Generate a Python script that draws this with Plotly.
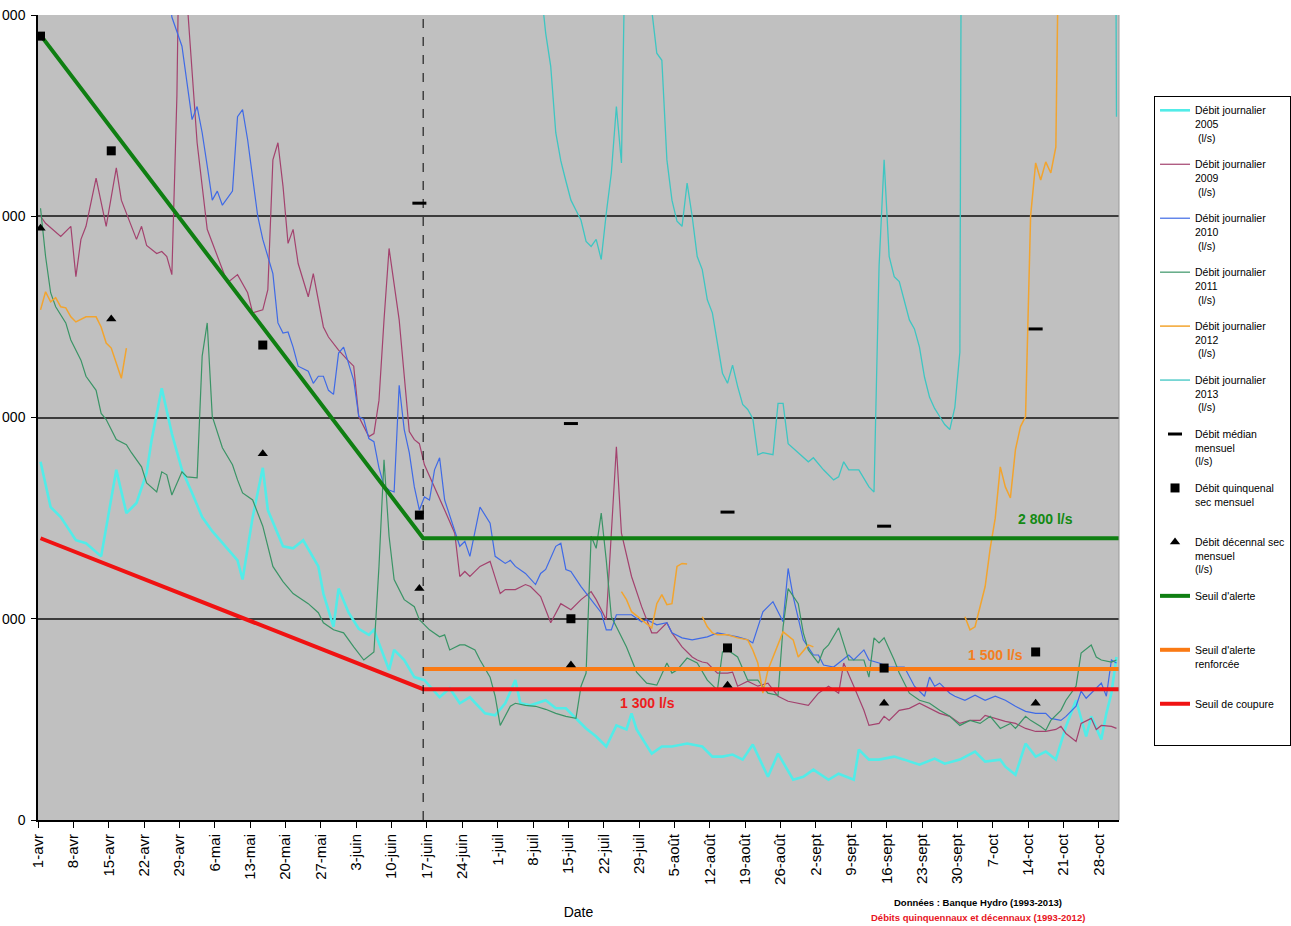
import plotly.graph_objects as go
from datetime import datetime, timedelta

BASE = datetime(2013, 4, 1)

tick_labels = ["1-avr", "8-avr", "15-avr", "22-avr", "29-avr", "6-mai", "13-mai", "20-mai",
               "27-mai", "3-juin", "10-juin", "17-juin", "24-juin", "1-juil", "8-juil",
               "15-juil", "22-juil", "29-juil", "5-août", "12-août", "19-août", "26-août",
               "2-sept", "9-sept", "16-sept", "23-sept", "30-sept", "7-oct", "14-oct",
               "21-oct", "28-oct"]

# (day index since 1-avr, flow l/s)
flow_2005 = [(0,3560),(2,3110),(4,3010),(7,2780),(9,2750),(12,2620),(15,3480),(17,3050),(19,3150),
             (21,3450),(22,3780),(24,4290),(26,3840),(28,3480),(30,3250),(32,3010),(34,2870),(36,2750),
             (38,2630),(39,2580),(40,2390),(42,3010),(44,3500),(45,3080),(48,2720),(50,2700),(52,2780),
             (55,2520),(56,2250),(58,1920),(59,2300),(61,2060),(63,1900),(65,1840),(66,1890),(69,1490),
             (70,1690),(72,1590),(74,1420),(76,1390),(79,1220),(81,1310),(83,1160),(85,1220),(88,1060),
             (90,1040),(92,1160),(94,1390),(95,1160),(97,1140),(100,1190),(102,1110),(104,1110),
             (106,1010),(108,910),(110,830),(112,730),(114,940),(116,900),(117,1060),(118,900),(121,660),
             (123,730),(125,730),(128,760),(131,730),(133,630),(135,630),(137,650),(139,600),(141,750),
             (144,430),(146,660),(149,400),(151,430),(153,500),(156,400),(158,460),(161,400),(162,700),
             (164,600),(166,600),(169,630),(171,600),(174,550),(177,610),(179,560),(182,600),(185,680),
             (187,580),(190,600),(191,530),(193,450),(195,760),(197,630),(199,680),(201,600),(203,930),
             (205,1190),(207,830),(208,1030),(210,800),(211,1060),(212,1260),(213,1620)]

flow_2009 = [(0,6000),(1,5930),(4,5800),(6,5900),(7,5400),(8,5770),(9,5900),(11,6380),(13,5900),
             (15,6480),(16,6160),(17,6030),(19,5770),(20,5900),(21,5710),(23,5630),(24,5650),(25,5600),
             (26,5420),(27,7200),(28,10800),(29,8150),(30,7390),(31,6730),(33,5870),(35,5600),(37,5340),
             (39,5420),(41,5240),(42,5040),(44,5070),(45,5270),(46,6560),(47,6730),(48,6300),(49,5730),
             (50,5870),(51,5530),(53,5200),(54,5430),(56,4900),(57,4800),(59,4670),(61,4560),(62,4510),
             (63,4010),(65,3810),(66,3840),(67,4170),(68,4970),(69,5680),(71,4970),(73,3860),(74,3780),
             (75,3740),(76,3530),(78,3310),(80,3080),(82,2850),(83,2420),(84,2470),(85,2420),(87,2520),
             (89,2570),(91,2250),(92,2290),(94,2290),(96,2340),(97,2320),(99,2220),(101,1960),(103,2150),
             (105,2090),(107,2190),(109,2270),(110,2190),(112,1990),(113,2820),(114,3710),(115,2850),
             (117,2420),(119,2120),(121,1860),(122,1860),(124,1960),(125,1860),(127,1720),(129,1620),
             (130,1590),(131,1570),(132,1560),(134,1460),(136,1460),(137,1470),(138,1330),(140,1380),
             (142,1330),(144,1360),(146,1230),(148,1180),(150,1160),(152,1140),(154,1260),(156,1330),
             (158,1260),(159,1560),(161,1330),(163,1090),(164,940),(166,960),(167,1030),(168,990),
             (170,1090),(172,1110),(174,1160),(176,1110),(178,1060),(180,1030),(182,960),(184,990),
             (186,990),(187,1040),(189,1010),(191,980),(193,960),(195,910),(197,880),(199,880),(201,900),
             (202,930),(203,860),(205,780),(206,960),(208,1010),(209,900),(210,940),(212,930),(213,910)]

flow_2010 = [(25,8600),(26,7980),(28,7690),(30,6960),(31,7090),(32,6830),(33,6500),(34,6160),(35,6250),
             (36,6110),(38,6250),(39,6990),(40,7060),(41,6760),(43,6000),(44,5770),(46,5430),(47,4940),
             (48,4840),(49,4850),(50,4700),(51,4510),(53,4460),(54,4340),(55,4410),(56,4410),(57,4270),
             (58,4230),(59,4640),(60,4700),(62,4370),(63,4010),(64,3980),(65,3790),(66,3760),(67,3500),
             (68,3320),(69,3280),(70,3260),(71,4320),(72,3880),(73,3650),(74,3310),(75,3080),(76,3210),
             (77,3180),(78,3480),(79,3600),(80,3180),(83,2720),(84,2770),(85,2620),(87,3110),(89,2950),
             (90,2620),(92,2550),(93,2580),(94,2520),(96,2450),(98,2340),(99,2450),(100,2490),(102,2720),
             (103,2750),(104,2490),(105,2470),(107,2320),(109,2190),(111,2060),(112,1890),(113,1890),
             (114,2040),(117,2040),(119,1970),(120,1990),(122,1940),(124,1960),(125,1860),(127,1810),
             (129,1790),(132,1820),(134,1860),(136,1840),(138,1820),(140,1790),(141,1760),(143,2070),
             (145,2170),(147,1970),(148,2500),(149,2220),(151,1790),(153,1640),(154,1640),(155,1540),
             (157,1520),(160,1640),(161,1590),(163,1690),(164,1590),(166,1560),(168,1520),(171,1520),
             (173,1330),(175,1230),(176,1420),(177,1330),(178,1360),(180,1260),(181,1230),(183,1190),
             (185,1240),(187,1190),(189,1230),(191,1190),(193,1130),(195,1080),(197,1060),(199,1060),
             (200,1010),(202,990),(203,1030),(205,1130),(206,1280),(207,1210),(208,1260),(210,1360),
             (211,1230),(212,1590),(213,1560)]

flow_2011 = [(0,6080),(1,5600),(2,5240),(3,5100),(5,4940),(6,4770),(8,4570),(9,4410),(11,4270),(12,4040),
             (13,3980),(15,3780),(17,3730),(18,3650),(20,3510),(21,3350),(23,3260),(24,3460),(25,3430),
             (26,3230),(28,3460),(29,3410),(31,3400),(32,4610),(33,4940),(34,4010),(36,3700),(37,3610),
             (38,3530),(39,3380),(40,3250),(42,3180),(44,2920),(46,2520),(48,2370),(50,2250),(53,2150),
             (55,2060),(56,1960),(58,1890),(60,1860),(62,1720),(64,1590),(66,1670),(67,2520),(68,3580),
             (69,2820),(70,2390),(72,2190),(74,2120),(75,1990),(77,1890),(79,1820),(80,1840),(81,1690),
             (83,1740),(84,1740),(86,1690),(87,1590),(89,1420),(90,1230),(91,940),(93,1130),(94,1160),
             (96,1140),(98,1130),(100,1100),(102,1060),(104,1030),(106,1010),(107,1330),(108,1460),
             (109,2820),(110,2700),(111,3050),(112,2580),(113,2020),(114,1920),(116,1720),(118,1470),
             (120,1360),(122,1340),(124,1560),(125,1460),(126,1490),(128,1610),(130,1560),(132,1390),
             (134,1290),(135,1670),(136,1690),(138,1620),(140,1390),(142,1390),(144,1260),(146,1240),
             (147,1920),(148,2300),(150,2150),(151,1860),(152,1690),(154,1560),(155,1690),(156,1740),
             (158,1910),(160,1590),(161,1590),(163,1590),(164,1420),(165,1810),(166,1760),(167,1810),
             (169,1590),(170,1460),(172,1260),(174,1190),(176,1160),(178,1090),(180,1030),(182,940),
             (184,990),(186,960),(188,1030),(190,910),(192,960),(193,910),(195,1030),(196,990),(198,930),
             (199,890),(200,990),(202,1090),(203,1190),(205,1330),(206,1660),(208,1740),(209,1620),
             (210,1590),(212,1570),(213,1590)]

flow_2012 = [(0,5070),(1,5250),(2,5150),(3,5190),(4,5100),(5,5090),(6,5000),(7,4950),(9,5000),(10,5000),
             (11,5000),(12,4900),(13,4740),(14,4690),(15,4540),(16,4390),(17,4690),(18,None),
             (115,2270),(116,2190),(117,2070),(119,1990),(120,1950),(121,1910),(122,2150),(123,2240),
             (124,2140),(125,2150),(126,2520),(127,2550),(128,2545),(129,None),
             (131,2020),(132,1920),(133,1860),(134,1840),(136,1840),(138,1810),(140,1790),(141,1690),
             (142,1560),(143,1260),(144,1490),(145,1620),(146,1760),(147,1870),(149,1790),(150,1620),
             (152,1740),(153,1720),(154,None),
             (183,2020),(184,1890),(185,1920),(187,2320),(188,2700),(189,3000),(190,3510),(191,3310),
             (192,3200),(193,3680),(194,3910),(195,4010),(196,6000),(197,6530),(198,6360),(199,6540),
             (200,6430),(201,6690),(202,10500)]

flow_2013 = [(97,12000),(99,8300),(100,7820),(101,7490),(102,6830),(103,6550),(104,6350),(105,6160),
             (106,6060),(107,5960),(108,5750),(109,5700),(110,5770),(111,5570),(112,6030),(113,6430),
             (114,7090),(115,6530),(116,9500),(118,11000),(120,10000),(121,8050),(122,7620),(123,7550),
             (124,6560),(125,6160),(126,5950),(127,5900),(128,6330),(129,6000),(130,5600),(131,5470),
             (132,5170),(133,5040),(134,4740),(135,4440),(136,4340),(137,4520),(138,4310),(139,4130),
             (140,4080),(141,3990),(142,3630),(143,3650),(145,3630),(146,4140),(147,4140),(148,3740),
             (150,3650),(152,3560),(153,3600),(155,3480),(157,3380),(158,3410),(159,3560),(160,3480),
             (162,3480),(164,3310),(165,3260),(166,5500),(167,6560),(168,5600),(169,5400),(170,5350),
             (172,4970),(173,4880),(174,4700),(175,4400),(176,4200),(177,4090),(178,4010),(179,3930),
             (180,3880),(181,4100),(182,4650),(183,20000),(195,15000),(212,20000),(213,6990)]

# Monthly statistics (day index, l/s)
median_monthly = [(75,6130),(105,3940),(136,3060),(167,2920),(197,4880)]
quinq_monthly = [(0,7790),(14,6650),(44,4720),(75,3030),(105,2000),(136,1710),(167,1510),(197,1670)]
decen_monthly = [(0,5880),(14,4980),(44,3640),(75,2300),(105,1540),(136,1340),(167,1160),(197,1160)]

# Thresholds
threshold_dates = ["2013-04-01 12:00", "2013-06-16 06:00", "2013-11-01 00:00"]
alert_levels = [7800, 2800, 2800]
cut_levels = [2800, 1300, 1300]
reinforced_dates = ["2013-06-16 06:00", "2013-11-01 00:00"]
reinforced_levels = [1500, 1500]


def day_to_date(d):
    return (BASE + timedelta(days=d, hours=12)).strftime("%Y-%m-%d %H:%M")


def xs(series):
    return [day_to_date(d) for d, _ in series]


def ys(series):
    return [v for _, v in series]


FONT = "Liberation Sans, Arial, sans-serif"
fig = go.Figure()

line_series = [
    ("Débit journalier<br>2005<br>\u00a0(l/s)", flow_2005, "#52ECE8", 2.6),
    ("Débit journalier<br>2009<br>\u00a0(l/s)", flow_2009, "#A3426E", 1.2),
    ("Débit journalier<br>2010<br>\u00a0(l/s)", flow_2010, "#3F6AE6", 1.2),
    ("Débit journalier<br>2011<br>\u00a0(l/s)", flow_2011, "#3A9466", 1.2),
    ("Débit journalier<br>2012<br>\u00a0(l/s)", flow_2012, "#F2A42E", 1.5),
    ("Débit journalier<br>2013<br>\u00a0(l/s)", flow_2013, "#3EC6C2", 1.3),
]
rank = 1
for name, s, col, w in line_series:
    fig.add_trace(go.Scatter(x=xs(s), y=ys(s), mode="lines", name=name,
                             line=dict(color=col, width=w), connectgaps=False,
                             legendgroup=f"g{rank}", legendrank=rank))
    rank += 1

# thresholds (drawn above data)
fig.add_trace(go.Scatter(x=threshold_dates, y=alert_levels, mode="lines",
                         name="Seuil d'alerte<br>\u00a0<br>\u00a0",
                         line=dict(color="#0F7F12", width=4), legendgroup="g10", legendrank=10))
fig.add_trace(go.Scatter(x=reinforced_dates, y=reinforced_levels, mode="lines",
                         name="Seuil d'alerte<br>renforcée<br>\u00a0",
                         line=dict(color="#FA7A14", width=4), legendgroup="g11", legendrank=11))
fig.add_trace(go.Scatter(x=threshold_dates, y=cut_levels, mode="lines",
                         name="Seuil de coupure<br>\u00a0<br>\u00a0",
                         line=dict(color="#F01212", width=4), legendgroup="g12", legendrank=12))

# monthly markers
fig.add_trace(go.Scatter(x=xs(median_monthly), y=ys(median_monthly), mode="markers",
                         name="Débit médian<br>mensuel<br>(l/s)",
                         marker=dict(symbol="line-ew", size=10, color="black",
                                     line=dict(color="black", width=3)),
                         legendgroup="g7", legendrank=7))
fig.add_trace(go.Scatter(x=xs(quinq_monthly), y=ys(quinq_monthly), mode="markers",
                         name="Débit quinquenal<br>sec mensuel<br>\u00a0",
                         marker=dict(symbol="square", size=9, color="black"),
                         legendgroup="g8", legendrank=8))
fig.add_trace(go.Scatter(x=xs(decen_monthly), y=ys(decen_monthly), mode="markers",
                         name="Débit décennal sec<br>mensuel<br>(l/s)",
                         marker=dict(symbol="triangle-up", size=9, color="black"),
                         legendgroup="g9", legendrank=9))

# threshold labels
labels = [("2 800 l/s", "2013-10-17 10:00", 2990, "#138A13"),
          ("1 500 l/s", "2013-10-07 12:00", 1640, "#F47E20"),
          ("1 300 l/s", "2013-07-30 18:00", 1163, "#EE1C1C")]
for txt, xd, yv, col in labels:
    fig.add_annotation(x=xd, y=yv, xref="x", yref="y", text=f"<b>{txt}</b>", showarrow=False,
                       xanchor="center", yanchor="middle",
                       font=dict(family=FONT, size=14, color=col))

fig.add_shape(type="line", xref="x", yref="paper", x0=threshold_dates[1], x1=threshold_dates[1],
              y0=0, y1=1, line=dict(color="black", width=1, dash="dash"), layer="above")
# light right border of the plot area
fig.add_shape(type="line", xref="paper", yref="paper", x0=1, x1=1, y0=0, y1=1,
              line=dict(color="#9A9A9A", width=1), layer="above")

fig.add_annotation(x=0.8696, y=-0.1031, xref="paper", yref="paper", xanchor="center", yanchor="middle",
                   text="<b>Données : Banque Hydro (1993-2013)</b>", showarrow=False,
                   font=dict(family=FONT, size=9.5, color="black"))
fig.add_annotation(x=0.8696, y=-0.1217, xref="paper", yref="paper", xanchor="center", yanchor="middle",
                   text="<b>Débits quinquennaux et décennaux (1993-2012)</b>", showarrow=False,
                   font=dict(family=FONT, size=9.5, color="#E8141E"))

tick_dates = [(BASE + timedelta(days=7 * k)).strftime("%Y-%m-%d") for k in range(len(tick_labels))]

fig.update_layout(
    width=1291, height=926,
    margin=dict(l=38, r=172, t=15, b=106, autoexpand=False),
    paper_bgcolor="white", plot_bgcolor="#C0C0C0",
    font=dict(family=FONT, color="black"),
    showlegend=True,
    legend=dict(x=1.0324, y=0.8994, xanchor="left", yanchor="top", bgcolor="white",
                bordercolor="black", borderwidth=1, valign="top", tracegroupgap=10,
                traceorder="grouped", font=dict(family=FONT, size=10.5, color="black")),
    xaxis=dict(type="date", range=["2013-04-01", "2013-11-01"], tickvals=tick_dates,
               ticktext=tick_labels, tickangle=-90, tickfont=dict(family=FONT, size=15),
               ticks="outside", ticklen=6, tickcolor="black", showgrid=False, showline=True,
               linecolor="black", linewidth=2, zeroline=False, automargin=False,
               title=dict(text="Date", font=dict(family=FONT, size=14), standoff=23)),
    yaxis=dict(range=[0, 8000], tickvals=[0, 2000, 4000, 6000, 8000],
               ticktext=["0", "2 000", "4 000", "6 000", "8 000"], tickfont=dict(family=FONT, size=14),
               ticks="outside", ticklen=5, tickcolor="black", showgrid=True, gridcolor="#3C3C3C",
               gridwidth=1.5, showline=True, linecolor="black", linewidth=1.5, zeroline=False,
               automargin=False, ticklabelstandoff=3),
)

fig.write_html("out.html", config={"displayModeBar": False},
               post_script="document.body.style.margin='0px';")
